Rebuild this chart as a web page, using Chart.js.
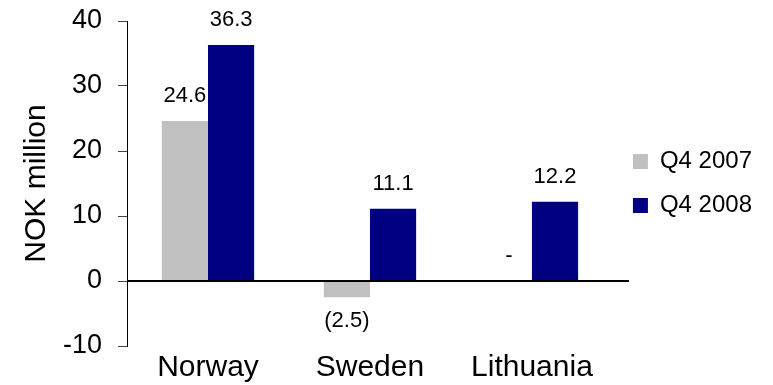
<!DOCTYPE html>
<html>
<head>
<meta charset="utf-8">
<script src="https://cdn.jsdelivr.net/npm/chart.js@4/dist/chart.umd.min.js"></script>
<style>
    html, body { margin: 0; padding: 0; background: #fff; }
    #chart { display: block; }
</style>
</head>
<body>
<canvas id="chart" width="773" height="385"></canvas>
<script>
// data
var categories = ['Norway', 'Sweden', 'Lithuania'];
var seriesNames = ['Q4 2007', 'Q4 2008'];
var q4_2007 = [24.6, -2.5, 0];
var q4_2008 = [36.3, 11.1, 12.2];
var yMin = -10;
var yMax = 40;
var yStep = 10;

var FONT = '"Liberation Sans", Arial, Helvetica, sans-serif';

class BarLabels{
    static format(v){
        if(v === 0) return '-';
        if(v < 0) return '(' + Math.abs(v).toFixed(1) + ')';
        return v.toFixed(1);
    }
}

// numbers above / below each bar
var barLabelPlugin = {
    id: 'barLabels',
    afterDatasetsDraw: function(chart){
        var ctx = chart.ctx;
        ctx.save();
        ctx.font = '22px ' + FONT;
        ctx.fillStyle = '#000';
        ctx.textAlign = 'center';
        ctx.textBaseline = 'middle';
        chart.data.datasets.forEach(function(ds, i){
            var meta = chart.getDatasetMeta(i);
            meta.data.forEach(function(bar, j){
                var v = ds.data[j];
                var y = v < 0 ? bar.y + 24 : bar.y - 25;
                ctx.fillText(BarLabels.format(v), bar.x, y);
            });
        });
        ctx.restore();
    }
};

// horizontal line at zero, runs a little past the plot like the original
var zeroLinePlugin = {
    id: 'zeroLine',
    afterDatasetsDraw: function(chart){
        var ctx = chart.ctx;
        var y = Math.round(chart.scales.y.getPixelForValue(0));
        ctx.save();
        ctx.strokeStyle = '#000';
        ctx.lineWidth = 2;
        ctx.beginPath();
        ctx.moveTo(chart.chartArea.left, y);
        ctx.lineTo(chart.chartArea.right + 16, y);
        ctx.stroke();
        ctx.restore();
    }
};

new Chart(document.getElementById('chart').getContext('2d'), {
    type: 'bar',
    data: {
        labels: categories,
        datasets: [
            {label: seriesNames[0], data: q4_2007, backgroundColor: '#C0C0C0', borderWidth: 0},
            {label: seriesNames[1], data: q4_2008, backgroundColor: '#000080', borderWidth: 0}
        ]
    },
    options: {
        responsive: false,
        animation: false,
        layout: {padding: {left: 0, right: 11, top: 21, bottom: -5}},
        datasets: {bar: {categoryPercentage: 0.57, barPercentage: 1}},
        plugins: {
            legend: {
                position: 'right',
                fullSize: false,
                labels: {
                    boxWidth: 15,
                    boxHeight: 15,
                    padding: 20,
                    color: '#000',
                    font: {family: FONT, size: 24}
                }
            },
            tooltip: {enabled: false}
        },
        scales: {
            x: {
                grid: {display: false, drawTicks: false},
                border: {display: false},
                ticks: {color: '#000', padding: 7, font: {family: FONT, size: 30, lineHeight: 1.0}}
            },
            y: {
                min: yMin,
                max: yMax,
                ticks: {stepSize: yStep, color: '#000', padding: 16, font: {family: FONT, size: 27}},
                grid: {drawOnChartArea: false, drawTicks: true, tickLength: 9, color: '#444'},
                border: {display: true, color: '#000', width: 1},
                title: {
                    display: true,
                    text: 'NOK million',
                    color: '#000',
                    font: {family: FONT, size: 30, lineHeight: 1.2},
                    padding: {top: 19, bottom: 9}
                },
                afterFit: function(scale){
                    scale.width = 127;
                    scale.paddingTop = 0;
                    scale.paddingBottom = 0;
                }
            }
        }
    },
    plugins: [zeroLinePlugin, barLabelPlugin]
});
</script>
</body>
</html>
